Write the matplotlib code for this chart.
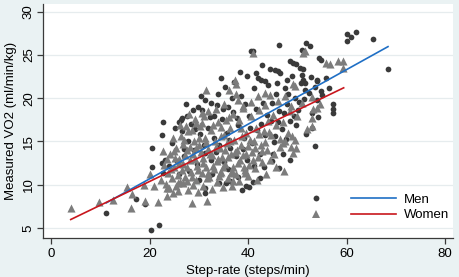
import numpy as np
import matplotlib
matplotlib.use('Agg')
import matplotlib.pyplot as plt
from matplotlib.lines import Line2D

plt.rcParams['font.family'] = ['Liberation Sans', 'DejaVu Sans']

# Men (circles)
men_x = [11.2, 17.2, 19.1, 20.3, 21.9, 20.4, 20.5, 22.7, 22.5, 25.9, 26.3, 26.6,
         31.3, 31.3, 31.2, 32.4, 33.1, 36.0, 35.6, 36.4, 60.0, 60.0, 60.8, 61.9,
         65.4, 68.4, 46.3, 51.7, 52.5, 51.0, 40.5, 41.0, 54.4, 54.9, 48.5, 49.2,
         49.8, 50.5, 51.2, 50.9, 51.2, 51.5, 44.4, 45.4, 46.1, 46.5, 41.7, 42.1,
         42.7, 43.4, 47.8, 45.8, 53.9, 54.0, 57.3, 57.3, 57.3, 53.5, 48.6, 52.9,
         49.8, 47.1, 45.1, 38.7, 41.0, 54.7, 39.6, 32.6, 22.8, 22.5,
         24.5, 25.5, 26.5, 27.0, 27.8, 28.4, 29.0, 29.6, 30.2, 30.7, 31.3, 31.9,
         32.5, 33.0, 33.6, 34.1, 34.7, 35.2, 35.8, 36.4, 36.9, 37.5, 38.0, 38.6,
         39.1, 39.7, 40.2, 40.8, 41.3, 41.9, 42.4, 43.0, 43.5, 44.1, 44.6, 45.2,
         45.7, 46.3, 46.8, 47.4, 47.9, 48.5, 49.0, 49.6, 50.1, 50.7, 51.3, 51.8,
         52.4, 53.0, 53.6, 54.2, 55.0, 55.8, 56.4,
         28.0, 30.0, 32.0, 34.0, 36.0, 37.9, 39.4, 41.2, 43.2, 44.8, 46.2, 40.1,
         42.5, 26.0, 24.0, 23.2, 27.4, 29.8, 33.8, 35.4, 37.2, 39.8, 42.8, 38.3,
         36.8,
         29.3, 31.0, 32.2, 33.4, 35.0, 36.1, 37.7, 38.9, 40.4, 41.6, 42.7, 43.8,
         44.9, 46.0, 47.2, 48.2, 49.3, 50.4, 51.6, 52.7, 53.9, 45.5, 47.7, 39.3,
         27.5, 28.8, 30.4, 34.5, 26.9, 25.2]
men_y = [6.7, 8.3, 7.8, 4.8, 5.3, 14.3, 12.0, 17.3, 15.7, 17.2, 17.5, 17.7,
         9.6, 9.0, 19.8, 19.5, 18.0, 19.0, 10.2, 10.4, 27.4, 26.6, 27.1, 27.6,
         26.8, 23.4, 26.1, 26.4, 26.0, 25.6, 25.4, 25.5, 24.6, 24.4, 24.3, 24.1,
         23.9, 23.5, 23.4, 22.7, 22.1, 21.8, 23.4, 23.3, 23.1, 22.9, 22.9, 22.3,
         22.1, 22.0, 22.1, 21.8, 22.1, 22.0, 19.3, 18.7, 18.3, 14.5, 12.8, 16.6,
         16.9, 13.5, 13.5, 9.4, 10.3, 20.8, 9.9, 11.2, 11.4, 12.5,
         14.8, 12.7, 16.2, 13.3, 15.0, 17.0, 14.0, 12.4, 15.9, 18.6, 13.7, 16.6,
         12.9, 15.4, 19.2, 14.6, 17.6, 12.6, 16.0, 14.2, 18.4, 13.3, 16.9, 20.2,
         15.4, 12.9, 18.0, 14.8, 21.2, 16.3, 13.5, 19.5, 15.8, 21.5, 17.4, 14.9,
         20.5, 18.5, 16.4, 21.2, 19.3, 17.4, 22.6, 20.0, 18.6, 21.7, 19.9, 15.9,
         20.6, 18.3, 21.3, 17.8, 20.4, 22.3, 21.2,
         11.6, 10.6, 11.0, 10.2, 11.8, 10.9, 11.7, 12.2, 12.0, 12.7, 11.9, 9.7,
         10.8, 11.2, 12.2, 12.8, 19.3, 19.0, 20.5, 21.3, 21.9, 22.6, 23.8, 23.0,
         20.0,
         16.4, 14.6, 17.8, 13.8, 18.8, 15.2, 17.7, 14.1, 16.6, 18.7, 17.0, 18.1,
         19.4, 17.2, 18.3, 20.5, 18.0, 19.6, 21.0, 22.4, 19.8, 15.6, 15.3, 19.3,
         17.9, 18.6, 20.2, 22.3, 14.1, 16.5]

# Women (triangles)
women_x = [4.1, 9.8, 12.6, 15.4, 16.2, 16.4, 19.1, 18.9, 20.9, 21.8, 23.5, 24.8,
           25.8, 23.5, 25.8, 26.8, 27.5, 28.6, 31.7, 34.3, 36.6, 39.3, 20.1, 22.8,
           31.4, 36.1, 37.3, 37.5, 38.0, 31.9, 30.6, 29.5, 30.6, 35.6, 41.0, 51.2,
           51.6, 55.9, 56.6, 58.3, 59.3, 59.3, 49.2, 49.5, 48.8, 49.8, 49.2, 47.1,
           46.5, 52.9, 52.9, 54.6, 53.9, 53.2, 43.4, 44.4, 39.0, 47.5, 48.8,
           23.0, 23.8, 24.2, 24.6, 25.0, 25.3, 25.7, 26.0, 26.4, 26.8, 27.1, 27.5,
           27.9, 28.2, 28.5, 28.8, 29.1, 29.4, 29.7, 30.0, 30.3, 30.6, 30.9, 31.2,
           31.5, 31.8, 32.1, 32.4, 32.7, 33.0, 33.3, 33.6, 33.9, 34.2, 34.5, 34.8,
           35.1, 35.4, 35.7, 36.0, 36.3, 36.6, 36.9, 37.2, 37.5, 37.8, 38.1, 38.4,
           38.7, 39.0, 39.3, 39.6, 39.9, 40.2, 40.5, 40.8, 41.1, 41.4, 41.7, 42.0,
           42.3, 42.6, 42.9, 43.2, 43.5, 43.8, 44.1, 44.4, 44.7, 45.0, 45.3, 45.6,
           46.0, 46.4, 47.0, 47.5, 48.0, 48.5, 49.0, 49.5, 50.0, 51.0, 52.0, 53.0,
           22.3, 23.3, 24.0, 25.4, 26.2, 27.8, 28.9, 29.9, 30.8, 32.6, 33.7, 35.0,
           36.8, 38.2, 40.0, 41.8, 43.6, 45.6, 47.2, 24.9, 26.7, 27.3, 29.3, 31.0,
           28.0, 33.5, 35.2, 37.0, 38.9, 40.6, 42.1, 37.6,
           24.3, 25.1, 25.9, 26.5, 27.2, 27.7, 28.3, 28.7, 29.2, 29.8, 30.4, 30.9,
           31.4, 31.9, 32.3, 32.9, 33.4, 33.8, 34.4, 34.9, 35.3, 35.9, 36.4, 36.8,
           37.4, 37.9, 38.5, 39.1, 39.6, 40.3, 40.9, 41.5, 42.2, 42.8, 43.4, 44.2,
           26.1, 28.6, 30.1, 32.8, 34.6, 36.2, 38.6, 23.6, 24.8, 27.0, 29.5, 31.6,
           34.0, 37.0]
women_y = [7.3, 8.0, 8.2, 9.75, 7.3, 8.9, 8.1, 9.95, 9.8, 8.0, 8.7, 9.1,
           9.3, 9.6, 10.2, 10.2, 10.4, 7.9, 8.1, 11.4, 11.4, 11.4, 11.2, 13.9,
           20.9, 20.9, 22.1, 21.6, 19.8, 18.5, 18.3, 17.1, 17.1, 17.5, 25.2, 25.2,
           25.4, 24.1, 23.9, 24.3, 24.3, 23.5, 21.6, 15.2, 14.4, 14.3, 13.7, 14.8,
           14.4, 16.8, 17.7, 19.3, 18.9, 18.7, 20.6, 20.4, 19.1, 15.0, 19.1,
           12.3, 11.4, 13.5, 10.8, 12.0, 14.2, 11.1, 13.0, 15.6, 12.4, 10.9, 14.0,
           16.2, 12.8, 11.5, 13.6, 15.1, 10.6, 12.2, 14.6, 16.8, 11.3, 13.1, 15.4,
           12.0, 14.1, 10.9, 16.3, 13.4, 11.8, 15.0, 12.7, 17.2, 14.3, 11.5, 13.2,
           15.8, 12.4, 14.8, 10.8, 16.5, 13.6, 12.1, 15.2, 11.2, 14.0, 17.5, 12.8,
           15.6, 13.4, 11.7, 16.0, 14.5, 12.3, 17.9, 13.8, 15.1, 11.9, 16.6, 13.2,
           18.6, 14.6, 12.6, 16.2, 19.2, 14.0, 17.4, 12.9, 15.7, 18.1, 13.6, 16.9,
           19.7, 15.3, 17.3, 20.2, 16.0, 18.5, 15.6, 21.4, 17.9, 19.4, 16.4, 20.1,
           10.6, 10.1, 9.6, 9.9, 10.3, 9.4, 10.0, 9.2, 9.8, 9.5, 10.3, 9.7,
           9.9, 10.4, 11.0, 10.6, 11.2, 12.0, 11.6, 13.9, 14.7, 16.8, 17.6, 17.9,
           18.2, 18.8, 19.3, 18.2, 18.9, 19.6, 20.3, 20.5,
           11.8, 13.1, 12.5, 11.7, 13.4, 12.1, 14.4, 10.9, 13.0, 11.7, 13.8, 12.5,
           14.9, 11.4, 13.6, 12.2, 14.4, 13.0, 15.6, 12.0, 14.0, 13.2, 15.0, 11.6,
           13.8, 12.5, 14.6, 12.0, 13.6, 15.2, 12.8, 14.2, 15.9, 13.9, 14.9, 16.1,
           16.9, 16.3, 15.4, 16.9, 16.7, 17.8, 16.6, 13.0, 15.4, 15.2, 14.2, 10.8,
           11.0, 10.4]

# fitted lines (end points)
men_fit_x = [11.2, 68.4]
men_fit_y = [7.9, 25.96]
women_fit_x = [4.0, 59.4]
women_fit_y = [5.98, 21.2]

bg = '#eaf2f3'
fig = plt.figure(figsize=(4.59, 2.77), dpi=100, facecolor=bg)
ax = fig.add_axes([0.094, 0.141, 0.893, 0.845])
ax.set_facecolor('white')

ax.scatter(men_x, men_y, s=17, marker='o', color='#3a3a3a', linewidths=0, zorder=2)
ax.scatter(women_x, women_y, s=34, marker='^', color='#7c7c7c', linewidths=0, zorder=3)
ax.plot(men_fit_x, men_fit_y, color='#1f6fc5', lw=1.2, zorder=4)
ax.plot(women_fit_x, women_fit_y, color='#c8161d', lw=1.2, zorder=5)

ax.set_xlim(-1.6, 81.6)
ax.set_ylim(3.85, 30.9)
ax.set_xticks([0, 20, 40, 60, 80])
ax.set_yticks([5, 10, 15, 20, 25, 30])
ax.grid(axis='y', color='#e6ecee', lw=0.9)
ax.set_axisbelow(True)
for s in ['top', 'right']:
    ax.spines[s].set_visible(False)
for s in ['left', 'bottom']:
    ax.spines[s].set_color('#3a3a3a')
    ax.spines[s].set_linewidth(0.9)
ax.tick_params(colors='#3a3a3a', labelcolor='black', labelsize=9.5, length=4, width=0.9)
ax.tick_params(axis='y', pad=2)
plt.setp(ax.get_yticklabels(), rotation=90, va='center')

ax.set_xlabel('Step-rate (steps/min)', fontsize=9.5, labelpad=3)
ax.set_ylabel('Measured VO2 (ml/min/kg)', fontsize=9.5, labelpad=4)

handles = [Line2D([], [], ls='none', marker='o', ms=4.2, color='#3a3a3a', mew=0),
           Line2D([], [], ls='none', marker='^', ms=5.8, color='#7c7c7c', mew=0),
           Line2D([], [], color='#1f6fc5', lw=1.2),
           Line2D([], [], color='#c8161d', lw=1.2)]
labels = ['', '', 'Men', 'Women']
ax.legend(handles, labels, ncol=2, frameon=False, loc='lower right',
          bbox_to_anchor=(1.02, 0.02), fontsize=9.5, handlelength=3.4,
          columnspacing=0.4, handletextpad=0.6, labelspacing=0.25)

fig.savefig('out.png', dpi=100, facecolor=bg)
